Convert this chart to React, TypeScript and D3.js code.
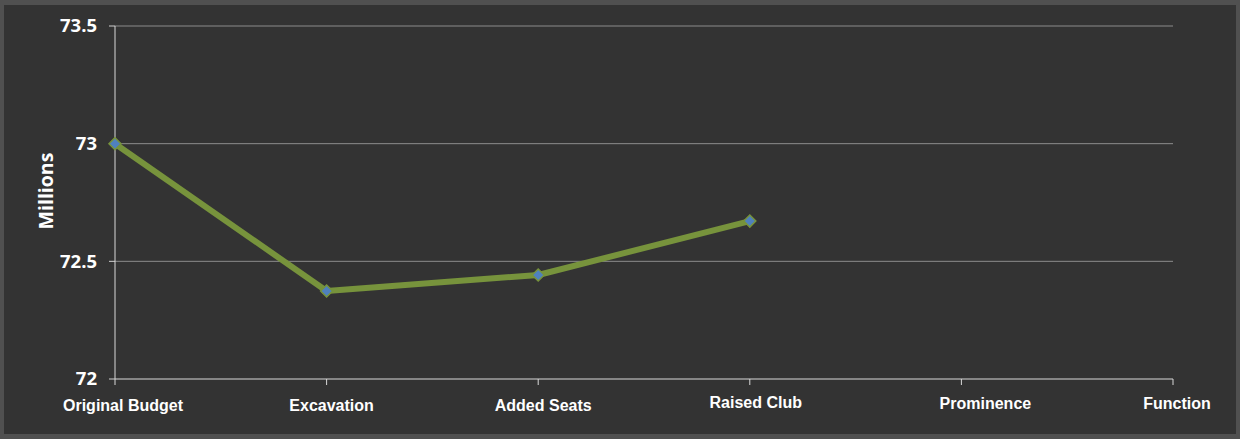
import React from "react";
import * as d3 from "d3";

const categories = ["Original Budget", "Excavation", "Added Seats", "Raised Club", "Prominence", "Function"];
const values: (number | null)[] = [73.0, 72.374, 72.442, 72.671, null, null];
const yTicks = [72, 72.5, 73, 73.5];
const yTickLabels = ["72", "72.5", "73", "73.5"];
const labelDy = [0, 0, 0, -3, -2, -2];
const labelDx = [8, 5, 5, 6, 24, 4];

export default function App() {
  const W = 1240, H = 439;
  const left = 115, right = 1173, top = 26, bottom = 379;
  const x = d3.scalePoint<string>().domain(categories).range([left, right]);
  const y = d3.scaleLinear().domain([72, 73.5]).range([bottom, top]);
  const pts = categories
    .map((c, i) => ({ c, v: values[i] }))
    .filter((d) => d.v !== null) as { c: string; v: number }[];
  const line = d3.line<{ c: string; v: number }>().x((d) => x(d.c)!).y((d) => y(d.v));
  const ds = 6;
  return (
    <svg width={W} height={H} style={{ position: "fixed", left: 0, top: 0 }}>
      <rect x={0} y={0} width={W} height={H} fill="#505050" />
      <rect x={4} y={5} width={W - 8} height={H - 10} fill="#333333" />
      {yTicks.map((t, i) => (
        <g key={t}>
          {t > 72 && <line x1={left} x2={right} y1={y(t)} y2={y(t)} stroke="#8c8c8c" strokeWidth={1} />}
          <line x1={left - 6} x2={left} y1={y(t)} y2={y(t)} stroke="#d0d0d0" strokeWidth={1} />
          <text x={97} y={y(t)} dy="0.35em" textAnchor="end" fill="#ffffff" fontFamily="'Open Sans', 'DejaVu Sans', sans-serif" fontWeight="bold" fontSize={18.5}>
            {yTickLabels[i]}
          </text>
        </g>
      ))}
      <line x1={left} x2={left} y1={top} y2={bottom} stroke="#d9d9d9" strokeWidth={1} />
      <line x1={left} x2={right} y1={bottom} y2={bottom} stroke="#d9d9d9" strokeWidth={1.2} />
      {categories.map((c, i) => (
        <g key={c}>
          <line x1={x(c)!} x2={x(c)!} y1={bottom} y2={bottom + 6} stroke="#d9d9d9" strokeWidth={1} />
          <text x={x(c)! + labelDx[i]} y={405 + labelDy[i]} dy="0.35em" textAnchor="middle" fill="#ffffff" fontFamily="'Liberation Sans', Arial, sans-serif" fontWeight="bold" fontSize={16}>
            {c}
          </text>
        </g>
      ))}
      <text transform={`translate(53,191) rotate(-90)`} textAnchor="middle" fill="#ffffff" fontFamily="'Open Sans', 'DejaVu Sans', sans-serif" fontWeight="bold" fontSize={19.5}>
        Millions
      </text>
      <path d={line(pts)!} fill="none" stroke="#77933c" strokeWidth={6} strokeLinejoin="round" />
      {pts.map((d) => (
        <path
          key={d.c}
          d={`M${x(d.c)},${y(d.v) - ds}L${x(d.c)! + ds},${y(d.v)}L${x(d.c)},${y(d.v) + ds}L${x(d.c)! - ds},${y(d.v)}Z`}
          fill="#4f81bd"
          stroke="#77933c"
          strokeWidth={1.5}
        />
      ))}
    </svg>
  );
}
